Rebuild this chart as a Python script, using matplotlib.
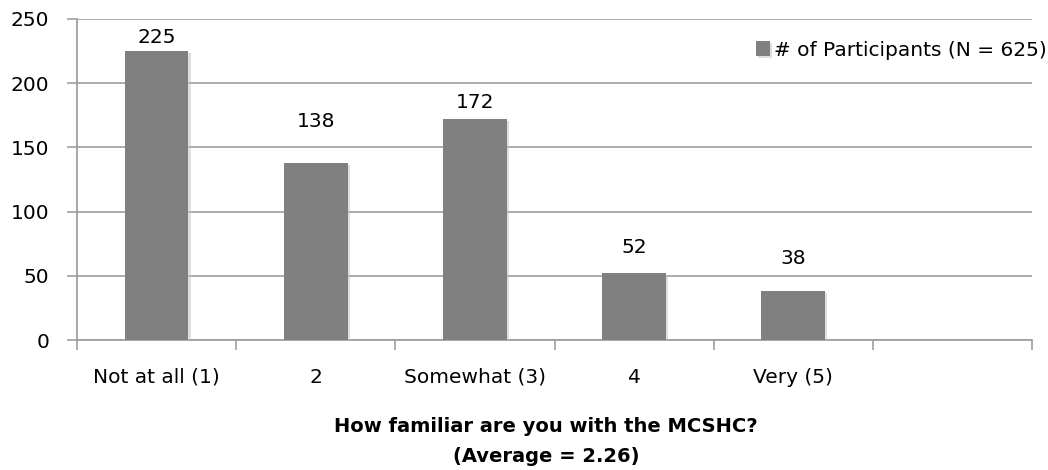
import matplotlib
matplotlib.use("Agg")
import matplotlib.pyplot as plt
import matplotlib.patheffects as pe

# Survey responses: familiarity with the MCSHC
categories = ["Not at all (1)", "2", "Somewhat (3)", "4", "Very (5)"]
participants = [225, 138, 172, 52, 38]
series_name = "# of Participants (N = 625)"
x_title_lines = ["How familiar are you with the MCSHC?", "(Average = 2.26)"]
y_ticks = [0, 50, 100, 150, 200, 250]

# Layout / style
n_slots = 6                      # the axis reserves one extra, empty category slot
label_offsets_px = [14, 41, 17, 26, 33]   # distance of each value label above its bar
bar_color = "#808080"
grid_color = "#a6a6a6"
axis_color = "#a0a0a0"
fs = 14.5

plt.rcParams["font.family"] = ["DejaVu Sans"]

fig = plt.figure(figsize=(10.48, 4.70), dpi=100)
ax = fig.add_axes([77 / 1048, 1 - 340 / 470, (1032 - 77) / 1048, (340 - 19) / 470])

xs = [i + 0.5 for i in range(len(categories))]
bars = ax.bar(xs, participants, width=0.4, color=bar_color, zorder=3,
              label=series_name)
for b in bars:
    b.set_path_effects([pe.SimplePatchShadow(offset=(1.5, -1.5), shadow_rgbFace="#c0c0c0",
                                             alpha=0.5), pe.Normal()])

for x, v, off in zip(xs, participants, label_offsets_px):
    ax.annotate(str(v), (x, v), xytext=(0, off), textcoords="offset pixels",
                ha="center", va="center", fontsize=fs, color="black")

ax.set_xlim(0, n_slots)
ax.set_ylim(0, 250)
ax.set_yticks(y_ticks)
ax.yaxis.grid(True, color=grid_color, linewidth=1.3, zorder=0)
ax.set_axisbelow(True)

# category boundary ticks, labels centred in each slot
ax.set_xticks(range(n_slots + 1))
ax.set_xticklabels([])
ax.set_xticks(xs, minor=True)
ax.set_xticklabels(categories, minor=True)
ax.tick_params(axis="x", which="minor", length=0, pad=20, labelsize=fs)
ax.tick_params(axis="x", which="major", length=7, width=1.2, color=axis_color,
               direction="out")
ax.tick_params(axis="y", length=7, width=1.2, color=axis_color, direction="out",
               labelsize=fs, pad=13)

for s in ["top", "right"]:
    ax.spines[s].set_visible(False)
for s in ["left", "bottom"]:
    ax.spines[s].set_color(axis_color)
    ax.spines[s].set_linewidth(1.3)

for line, ypx in zip(x_title_lines, [427, 456]):
    fig.text(546 / 1048, 1 - ypx / 470, line, ha="center", va="center",
             fontsize=14, fontweight="bold")

leg = fig.legend(loc="center right", bbox_to_anchor=(1047 / 1048, 1 - 50 / 470),
                 frameon=False, fontsize=fs, handlelength=0.7, handleheight=0.7,
                 handletextpad=0.2, borderaxespad=0, borderpad=0)

fig.savefig("out.png", dpi=100)
